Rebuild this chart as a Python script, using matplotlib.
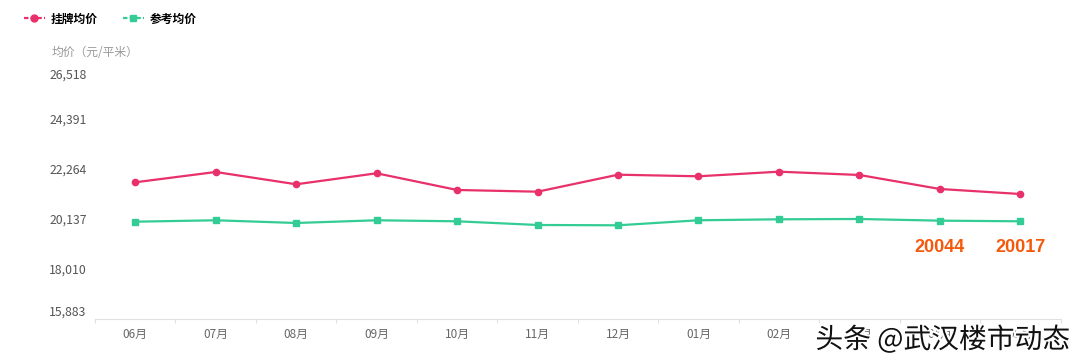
import matplotlib.pyplot as plt
import matplotlib.patheffects as pe
from matplotlib.lines import Line2D

plt.rcParams['font.family'] = ['Noto Sans CJK SC', 'DejaVu Sans']
plt.rcParams['axes.unicode_minus'] = False

months = ['06月', '07月', '08月', '09月', '10月', '11月', '12月', '01月', '02月', '03月', '04月', '05月']
listing_price = [21676, 22114, 21591, 22059, 21349, 21276, 21999, 21931, 22127, 21987, 21391, 21178]
reference_price = [20000, 20060, 19945, 20060, 20017, 19860, 19847, 20060, 20102, 20115, 20044, 20017]
y_ticks = [15883, 18010, 20137, 22264, 24391, 26518]
highlight_idx = [10, 11]

pink = '#e8306b'
green = '#34cc95'

fig = plt.figure(figsize=(10.8, 3.64), dpi=100)
ax = fig.add_axes([0.088, 0.125, 0.894, 0.687])

x = list(range(len(months)))
ax.plot(x, listing_price, color=pink, lw=1.6, marker='o', ms=4.5, zorder=3)
ax.plot(x, reference_price, color=green, lw=1.6, marker='s', ms=4.5, zorder=3)

ax.set_xlim(-0.5, len(months) - 0.5)
ax.set_ylim(y_ticks[0], y_ticks[-1])

# x axis: labels at centers, small ticks at category boundaries
ax.set_xticks(x)
ax.set_xticklabels(months, fontsize=8.5, color='#666666')
ax.set_xticks([b - 0.5 for b in range(len(months) + 1)], minor=True)
ax.tick_params(axis='x', which='major', length=0, pad=7)
ax.tick_params(axis='x', which='minor', length=3, width=0.8, color='#e0e0e0')

ax.set_yticks(y_ticks)
ax.set_yticklabels([f'{v:,}' for v in y_ticks], fontsize=8.8, color='#555555')
ax.tick_params(axis='y', length=0, pad=6)
labels = ax.get_yticklabels()
labels[0].set_va('bottom')
labels[-1].set_va('top')

for s in ['top', 'right', 'left']:
    ax.spines[s].set_visible(False)
ax.spines['bottom'].set_color('#e0e0e0')
ax.spines['bottom'].set_linewidth(0.8)

fig.text(52 / 1080, 1 - 52 / 364, '均价（元/平米）', fontsize=8.5, color='#999999', va='center')

# legend
handles = [
    Line2D([], [], color=pink, lw=1.6, ls=(0, (2, 1)), marker='o', ms=5),
    Line2D([], [], color=green, lw=1.6, ls=(0, (2, 1)), marker='s', ms=5),
]
fig.legend(handles, ['挂牌均价', '参考均价'], loc='center left', bbox_to_anchor=(0.012, 1 - 19 / 364),
           ncol=2, frameon=False, handlelength=1.8, handletextpad=0.5, columnspacing=2.1,
           prop={'weight': 'bold', 'size': 8.5})

for i in highlight_idx:
    ax.annotate(str(reference_price[i]), (i, reference_price[i]), xytext=(0, -19),
                textcoords='offset points', ha='center', va='center', fontsize=13,
                fontweight='bold', color='#f5590c', family='Liberation Sans')

fig.text(0.755, 1 - 340 / 364, '头条 @武汉楼市动态', fontsize=20, color='#111111', va='center',
         zorder=10, path_effects=[pe.withStroke(linewidth=3, foreground='white')])

fig.savefig('out.png', dpi=100)
